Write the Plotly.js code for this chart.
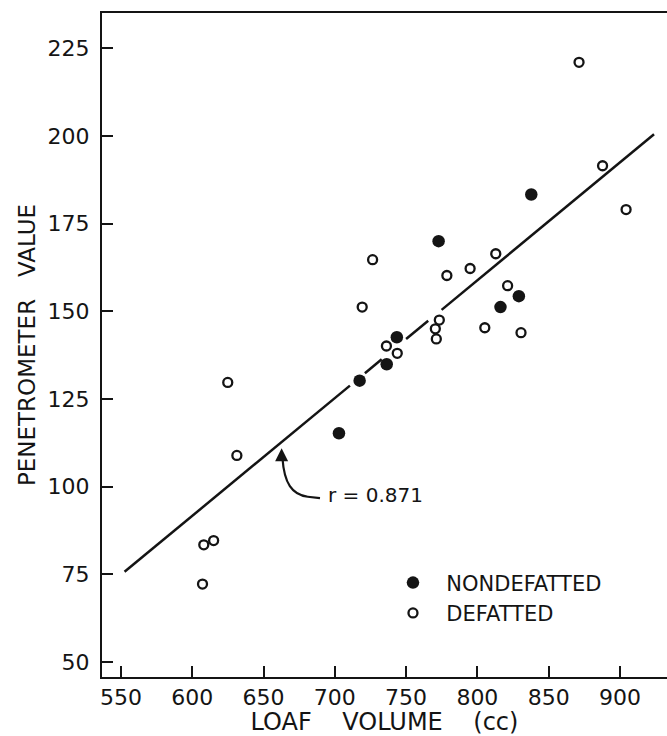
<!DOCTYPE html>
<html>
<head>
<meta charset="utf-8">
<script src="https://cdn.plot.ly/plotly-3.0.1.min.js"></script>
<style>html,body{margin:0;padding:0;background:#fff;}#chart{width:667px;height:736px;}</style>
</head>
<body>
<div id="chart"></div>
<script>
// Data
const nondefX = [702.9, 717.4, 736.4, 743.5, 772.8, 816.2, 829.1, 837.8];
const nondefY = [115.2, 130.2, 134.9, 142.6, 170.0, 151.2, 154.3, 183.3];
const defX = [607.2, 608.1, 615.0, 624.9, 631.3, 719.2, 726.5, 736.2, 743.8, 770.5, 771.2, 773.3, 778.6, 794.9, 805.2, 812.9, 821.2, 830.6, 871.3, 887.8, 904.3];
const defY = [72.2, 83.4, 84.6, 129.7, 108.9, 151.2, 164.7, 140.1, 138.0, 145.0, 142.1, 147.5, 160.2, 162.2, 145.3, 166.4, 157.3, 143.9, 221.0, 191.5, 179.0];
// Regression line as drawn (with the small breaks of the original drawing)
const fitX = [552.5, 710.6, null, 721.1, 732.9, null, 750.0, 765.5, null, 774.9, 923.9];
const fitY = [75.7, 128.8, null, 132.3, 136.3, null, 142.1, 147.3, null, 150.4, 200.5];
const xTicks = [550, 600, 650, 700, 750, 800, 850, 900];
const yTicks = [50, 75, 100, 125, 150, 175, 200, 225];
const rLabel = "r = 0.871";

const ink = "#141414";
const FONT = "DejaVu Sans, sans-serif";

const traces = [
  {x: fitX, y: fitY, mode: "lines", type: "scatter", showlegend: false,
   line: {color: ink, width: 2.5}, connectgaps: false, hoverinfo: "skip"},
  {x: nondefX, y: nondefY, mode: "markers", type: "scatter", name: "\u00a0\u00a0NONDEFATTED",
   marker: {symbol: "circle", size: 12.5, color: ink, line: {width: 0}}},
  {x: defX, y: defY, mode: "markers", type: "scatter", name: "\u00a0\u00a0DEFATTED",
   marker: {symbol: "circle", size: 9, color: "#fff", line: {color: ink, width: 2.3}}}
];

const axisCommon = {
  showgrid: false, zeroline: false, showline: true, linecolor: ink, linewidth: 2,
  ticks: "inside", ticklen: 11, tickwidth: 2, tickcolor: ink,
  tickfont: {family: FONT, size: 22, color: ink}
};

const layout = {
  width: 667, height: 736,
  margin: {l: 102, r: 0, t: 13, b: 59, pad: 0},
  paper_bgcolor: "#fff", plot_bgcolor: "#fff",
  font: {family: FONT, color: ink},
  xaxis: Object.assign({}, axisCommon, {
    range: [536.7, 933], tickmode: "array", tickvals: xTicks, mirror: true,
    ticklabelstandoff: 0,
    title: {text: "LOAF\u00a0\u00a0\u00a0\u00a0VOLUME\u00a0\u00a0\u00a0\u00a0(cc)", font: {family: FONT, size: 24, color: ink}, standoff: 11}
  }),
  yaxis: Object.assign({}, axisCommon, {
    range: [45.7, 235.06], tickmode: "array", tickvals: yTicks, mirror: false,
    ticklabelstandoff: 6,
    title: {text: "PENETROMETER\u00a0\u00a0\u00a0VALUE", font: {family: FONT, size: 23, color: ink}, standoff: 6}
  }),
  legend: {x: 0.515, xanchor: "left", y: 0.1725, yanchor: "top", bgcolor: "rgba(0,0,0,0)",
           font: {family: FONT, size: 21, color: ink}, borderwidth: 0},
  shapes: [
    {type: "path", xref: "x", yref: "y",
     path: "M 689.6,96.7 L 681,97.1 C 670,97.6 664.5,101 663.3,108",
     line: {color: ink, width: 2.2}}
  ],
  annotations: [
    {x: 662.7, y: 110.9, xref: "x", yref: "y", text: "", showarrow: true,
     ax: 0, ay: 14, arrowhead: 2, arrowsize: 1.3, arrowwidth: 2, arrowcolor: ink, standoff: 0},
    {x: 693.8, y: 97.6, xref: "x", yref: "y", text: rLabel, showarrow: false,
     xanchor: "left", yanchor: "middle", font: {family: FONT, size: 20, color: ink}}
  ]
};

Plotly.newPlot("chart", traces, layout, {displayModeBar: false, staticPlot: true});
</script>
</body>
</html>
